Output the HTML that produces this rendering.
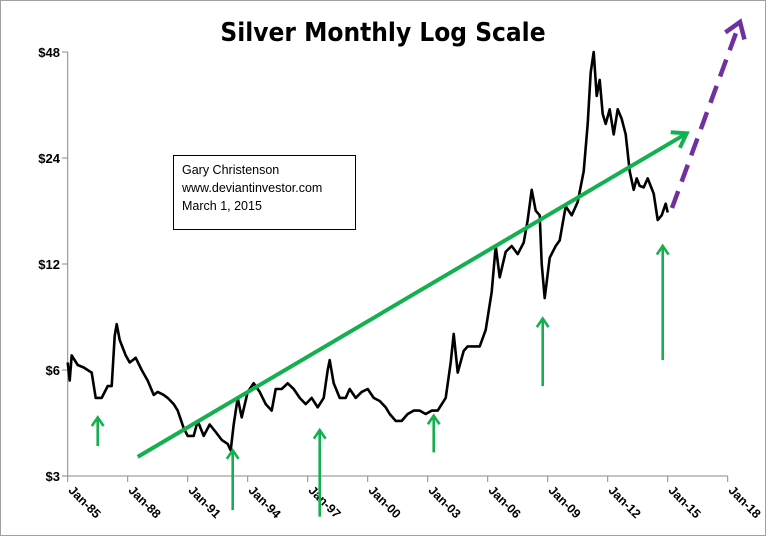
<!DOCTYPE html>
<html><head><meta charset="utf-8"><style>
body{margin:0;background:#fff}
svg{display:block;font-family:"Liberation Sans",sans-serif}
</style></head><body>
<svg id="c" width="766" height="536" viewBox="0 0 766 536">
<rect x="0.5" y="0.5" width="765" height="535" fill="#fff" stroke="#a0a0a0"/>
<text x="383" y="41" text-anchor="middle" font-size="26" font-weight="bold" style="font-family:'DejaVu Sans Condensed','Liberation Sans Narrow',sans-serif">Silver Monthly Log Scale</text>
<g id="axes"></g>
<g id="series"></g>
<g id="annot"></g>
<rect x="173.5" y="155.5" width="182" height="74" fill="#fff" stroke="#000"/>
<text x="182" y="174" font-size="12.5">Gary Christenson</text>
<text x="182" y="192" font-size="12.5">www.deviantinvestor.com</text>
<text x="182" y="210" font-size="12.5">March 1, 2015</text>
</svg>
<script>
const yTicks=[3,6,12,24,48];
const yTickLabels=["$3","$6","$12","$24","$48"];
const xTicks=[1985,1988,1991,1994,1997,2000,2003,2006,2009,2012,2015,2018];
const xTickLabels=["Jan-85","Jan-88","Jan-91","Jan-94","Jan-97","Jan-00","Jan-03","Jan-06","Jan-09","Jan-12","Jan-15","Jan-18"];
const years=[1985.0,1985.1,1985.2,1985.5,1985.8,1986.2,1986.4,1986.7,1987.0,1987.2,1987.35,1987.45,1987.6,1987.9,1988.1,1988.4,1988.7,1989.0,1989.3,1989.5,1989.8,1990.0,1990.3,1990.5,1990.8,1991.0,1991.3,1991.5,1991.8,1992.1,1992.4,1992.7,1993.0,1993.15,1993.3,1993.5,1993.7,1994.0,1994.3,1994.6,1994.9,1995.2,1995.4,1995.7,1996.0,1996.3,1996.6,1996.9,1997.2,1997.5,1997.8,1998.0,1998.1,1998.3,1998.6,1998.9,1999.1,1999.4,1999.7,2000.0,2000.3,2000.6,2000.9,2001.1,2001.4,2001.7,2002.0,2002.3,2002.6,2002.9,2003.2,2003.5,2003.9,2004.15,2004.3,2004.5,2004.8,2005.0,2005.3,2005.6,2005.9,2006.2,2006.4,2006.6,2006.9,2007.2,2007.5,2007.8,2008.0,2008.2,2008.4,2008.6,2008.7,2008.85,2009.1,2009.4,2009.6,2009.9,2010.2,2010.5,2010.8,2011.0,2011.15,2011.3,2011.45,2011.6,2011.75,2011.9,2012.1,2012.3,2012.5,2012.7,2012.9,2013.1,2013.3,2013.45,2013.6,2013.8,2014.0,2014.3,2014.5,2014.7,2014.9,2015.0,2015.08,2015.17];
const prices=[6.3,5.6,6.6,6.2,6.1,5.9,5.0,5.0,5.4,5.4,7.5,8.1,7.3,6.6,6.3,6.5,6.0,5.6,5.1,5.2,5.1,5.0,4.8,4.6,4.1,3.9,3.9,4.3,3.9,4.2,4.0,3.8,3.7,3.55,4.2,5.0,4.4,5.2,5.5,5.2,4.8,4.6,5.3,5.3,5.5,5.3,5.0,4.8,5.0,4.7,5.0,6.0,6.4,5.5,5.0,5.0,5.3,5.0,5.2,5.3,5.0,4.9,4.7,4.5,4.3,4.3,4.5,4.6,4.6,4.5,4.6,4.6,5.0,6.3,7.6,5.9,6.8,7.0,7.0,7.0,7.8,10.0,13.5,11.0,13.0,13.5,12.8,13.8,16.0,19.5,17.0,16.5,12.0,9.6,12.5,13.5,14.0,17.5,16.5,18.0,22.0,30.0,42.0,48.0,36.0,40.0,32.0,30.0,33.0,28.0,33.0,31.0,28.0,22.0,19.5,21.0,20.0,19.8,21.0,19.0,16.0,16.5,17.8,16.8];
const trendStart=[1988.5,3.4];
const trendEnd=[2015.95,28.2];
const arrowYears=[1986.5,1993.25,1997.6,2003.3,2008.75,2014.75];
const arrowBottom=[3.65,2.4,2.3,3.5,5.4,6.4];
const arrowTop=[4.4,3.55,4.05,4.45,8.4,13.5];
const X=yr=>67.7+(yr-1985)*20;
const Y=p=>476-106*Math.log2(p/3);
const NS="http://www.w3.org/2000/svg";
function mk(tag,at,parent){const e=document.createElementNS(NS,tag);for(const k in at)e.setAttribute(k,at[k]);document.getElementById(parent).appendChild(e);return e;}
let ax=mk('line',{x1:67.7,y1:52,x2:67.7,y2:476,stroke:'#888'},'axes');


ax=mk('line',{x1:67.7,y1:476,x2:X(2018),y2:476,stroke:'#888'},'axes');


yTicks.forEach((v,i)=>{
 const t=mk('line',{x1:62,y1:Y(v),x2:67.7,y2:Y(v),stroke:'#888'},'axes');
 
 
 const l=mk('text',{x:60,y:Y(v)+5,'text-anchor':'end','font-size':13,'font-weight':'bold'},'axes');
 l.textContent=yTickLabels[i];
 
 
});
xTicks.forEach((v,i)=>{
 const t=mk('line',{x1:X(v),y1:476,x2:X(v),y2:482,stroke:'#888'},'axes');
 
 
 const l=mk('text',{x:0,y:0,'font-size':12.5,'font-weight':'bold',transform:`translate(${X(v)},${491}) rotate(45)`},'axes');
 l.textContent=xTickLabels[i];
 
 
});
const pl=mk('polyline',{points:years.map((y,i)=>X(y).toFixed(1)+','+Y(prices[i]).toFixed(1)).join(' '),fill:'none',stroke:'#000','stroke-width':2.6,'stroke-linejoin':'round'},'series');


function arrow(x1,y1,x2,y2,color,w,name,dash){
 const g=mk('g',{},'annot');
 
 
 const l=document.createElementNS(NS,'line');
 [['x1',x1],['y1',y1],['x2',x2],['y2',y2],['stroke',color],['stroke-width',w]].forEach(a=>l.setAttribute(a[0],a[1]));
 if(dash)l.setAttribute('stroke-dasharray',dash);
 g.appendChild(l);
 const a=Math.atan2(y2-y1,x2-x1),s=w*4;
 const p=document.createElementNS(NS,'polyline');
 p.setAttribute('points',`${x2-s*Math.cos(a-0.6)},${y2-s*Math.sin(a-0.6)} ${x2},${y2} ${x2-s*Math.cos(a+0.6)},${y2-s*Math.sin(a+0.6)}`);
 p.setAttribute('fill','none');p.setAttribute('stroke',color);p.setAttribute('stroke-width',w);
 g.appendChild(p);
}
arrow(X(trendStart[0]),Y(trendStart[1]),X(trendEnd[0]),Y(trendEnd[1]),'#14b050',4,'trend-arrow');
arrowYears.forEach((yr,i)=>arrow(X(yr),Y(arrowBottom[i]),X(yr),Y(arrowTop[i]),'#14b050',2.6,'support-arrow'));
arrow(672,208,740,22,'#7030a0',4.5,'projection-arrow','18 10');
</script>
</body></html>
